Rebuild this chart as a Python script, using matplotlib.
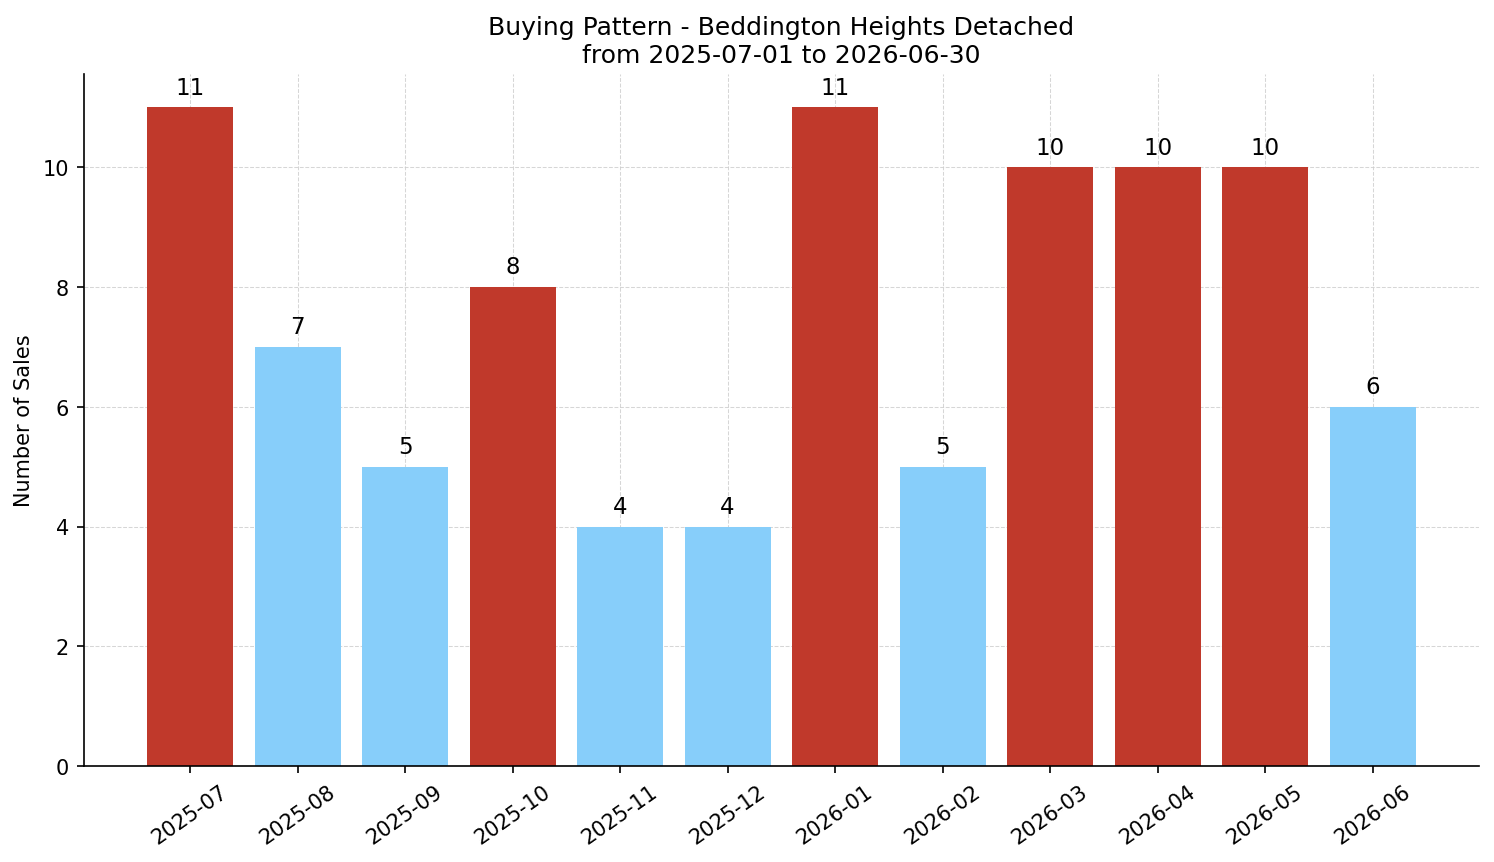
import matplotlib
matplotlib.use("Agg")
import matplotlib.pyplot as plt

# datos
months = ['2025-07', '2025-08', '2025-09', '2025-10', '2025-11', '2025-12',
          '2026-01', '2026-02', '2026-03', '2026-04', '2026-05', '2026-06']
sales = [11, 7, 5, 8, 4, 4, 11, 5, 10, 10, 10, 6]
bar_colors = ['#C0392B', '#87CEFA', '#87CEFA', '#C0392B', '#87CEFA', '#87CEFA',
              '#C0392B', '#87CEFA', '#C0392B', '#C0392B', '#C0392B', '#87CEFA']

fig, ax = plt.subplots(figsize=(9.96, 5.753), dpi=150)
bars = ax.bar(months, sales, color=bar_colors, zorder=2)
for b, v in zip(bars, sales):
    ax.annotate(str(v), (b.get_x() + b.get_width() / 2, v),
                xytext=(0, 4), textcoords='offset points',
                ha='center', va='bottom', fontsize=11)

ax.set_title('Buying Pattern - Beddington Heights Detached\nfrom 2025-07-01 to 2026-06-30')
ax.set_ylabel('Number of Sales')
ax.grid(True, linestyle='--', linewidth=0.5, color='#cccccc', alpha=0.8, zorder=0)
ax.spines['top'].set_visible(False)
ax.spines['right'].set_visible(False)
plt.setp(ax.get_xticklabels(), rotation=35)
ax.set_ylim(0, 11.55)

fig.subplots_adjust(left=0.056, right=0.99, top=0.913, bottom=0.111)
fig.savefig('out.png', dpi=150)
